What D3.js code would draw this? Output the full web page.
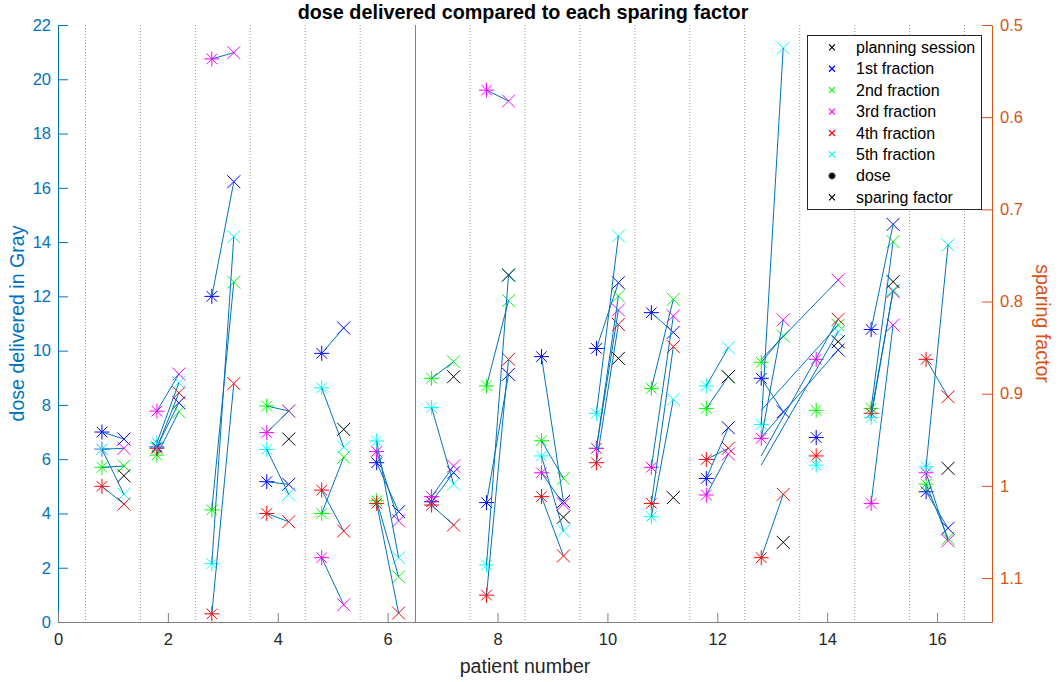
<!DOCTYPE html>
<html><head><meta charset="utf-8">
<script src="https://cdn.jsdelivr.net/npm/d3@7"></script>
<style>
body{margin:0;background:#fff}
text{font-family:"Liberation Sans",Arial,Helvetica,sans-serif}
</style>
</head><body><svg id="c" width="1059" height="682"></svg>
<script>
// ---------- data ----------
const patients = d3.range(1, 17);
const fractionNames = ["1st fraction", "2nd fraction", "3rd fraction", "4th fraction", "5th fraction"];
const fractionColors = ["#0000ff", "#00ff00", "#ff00ff", "#ff0000", "#00ffff"];

// dose delivered (Gy) per fraction, per patient 1..16
const doseF1 = [7.0, 6.45, 12.0, 5.17, 9.9, 5.87, 4.43, 4.4, 9.78, 10.08, 11.4, 5.29, 8.98, 6.8, 10.78, 4.8];
const doseF2 = [5.7, 6.15, 4.13, 7.96, 4.0, 4.47, 8.98, 8.7, 6.68, 6.4, 8.61, 7.87, 9.57, 7.8, 7.87, 5.08];
const doseF3 = [6.37, 7.77, 20.75, 6.98, 2.37, 6.28, 4.62, 19.6, 5.5, 6.4, 5.7, 4.68, 6.77, 9.68, 4.37, 5.5];
const doseF4 = [5.0, 6.4, 0.3, 4.0, 4.86, 4.37, 4.31, 0.99, 4.62, 5.87, 4.37, 5.99, 2.37, 6.12, 7.69, 9.68];
const doseF5 = [6.37, 6.6, 2.15, 6.36, 8.63, 6.67, 7.9, 2.1, 6.12, 7.69, 3.88, 8.7, 7.28, 5.78, 7.54, 5.72];

// sparing factors: planning session and each fraction
const sfPlan = [0.989, null, null, 0.9492, 0.9387, null, 0.8816, 0.7713, 1.034, 0.8617, 1.0128, 0.8816, 1.0613, 0.8436, 0.7785, 0.981];
const sfF1 = [0.9492, 0.9098, 0.670, 0.9984, 0.8287, 1.028, 0.9857, 0.879, 1.017, 0.7796, 0.8334, 0.9369, 0.9195, 0.8526, 0.7163, 1.046];
const sfF2 = [0.9785, 0.9195, 0.779, 0.9188, 0.969, 1.0986, 0.8653, 0.799, 0.9918, 0.794, 0.7976, 0.8816, 0.8374, 0.8255, 0.735, 1.057];
const sfF3 = [0.9593, 0.8787, 0.530, 0.9188, 1.129, 1.038, 0.9785, 0.5825, 1.0197, 0.8092, 0.8157, 0.9654, 0.82, 0.7767, 0.8255, 1.0595];
const sfF4 = [1.0197, 0.899, 0.889, 1.0389, 1.049, 1.138, 1.0425, 0.8627, 1.076, 0.8248, 0.849, 0.9593, 1.0092, 0.8193, 0.789, 0.9033];
const sfF5 = [1.0092, 0.888, 0.7297, 1.0092, 0.958, 1.078, 0.998, 0.7713, 1.049, 0.7289, 0.9061, 0.8501, 0.525, 0.8327, 0.7875, 0.7387];

// patient position from which each patient's connecting lines start (as drawn in the original)
const lineStartPatient = [1, 2, 3, 4, 5, 6, 7, 8, 9, 10, 11, 12, 13, 13, 15, 16];

const xTicks = [0, 2, 4, 6, 8, 10, 12, 14, 16];
const doseTicks = [0, 2, 4, 6, 8, 10, 12, 14, 16, 18, 20, 22];
const sfTicks = [0.5, 0.6, 0.7, 0.8, 0.9, 1.0, 1.1];
const separators = [0.5, 1.5, 2.5, 3.5, 4.5, 5.5, 7.5, 8.5, 9.5, 10.5, 11.5, 12.5, 13.5, 14.5, 15.5, 16.5];
const solidSeparator = [6.5];

const titleText = "dose delivered compared to each sparing factor";
const xLabel = "patient number";
const yLabelLeft = "dose delivered in Gray";
const yLabelRight = "sparing factor";

// ---------- drawing ----------
const doses = [doseF1, doseF2, doseF3, doseF4, doseF5];
const sfs = [sfF1, sfF2, sfF3, sfF4, sfF5];
const L = 58, R = 992, T = 25, B = 622;
const svg = d3.select("#c");
const x = d3.scaleLinear().domain([0, 17]).range([L, R]);
const yDose = d3.scaleLinear().domain([0, 22]).range([B, T]);
const ySf = d3.scaleLinear().domain([0.5, 1.1477]).range([T, B]);
const blue = "#0072bd", orange = "#d95319", dark = "#262626";
const dOff = -0.2, sOff = 0.2;

// separators
svg.append("g").selectAll("line").data(separators).join("line")
  .attr("x1", d => x(d)).attr("x2", d => x(d)).attr("y1", T).attr("y2", B)
  .attr("stroke", "#9a9a9a").attr("stroke-width", 1).attr("stroke-dasharray", "1,2");
svg.append("g").selectAll("line").data(solidSeparator).join("line")
  .attr("x1", d => Math.round(x(d)) + 0.5).attr("x2", d => Math.round(x(d)) + 0.5).attr("y1", T).attr("y2", B)
  .attr("stroke", "#808080").attr("stroke-width", 1);

// marker paths
function asterisk(r) {
  const q = r * Math.SQRT1_2;
  return `M${-r},0L${r},0M0,${-r}L0,${r}M${-q},${-q}L${q},${q}M${-q},${q}L${q},${-q}`;
}
function cross(r) {
  return `M${-r},${-r}L${r},${r}M${-r},${r}L${r},${-r}`;
}

const gMarks = svg.append("g");
// dose markers (asterisks)
for (let f = 0; f < 5; f++) {
  gMarks.append("g").selectAll("path").data(patients).join("path")
    .attr("transform", (p, i) => `translate(${x(p + dOff)},${yDose(doses[f][i])})`)
    .attr("d", asterisk(7.5)).attr("stroke", fractionColors[f]).attr("stroke-width", 1).attr("fill", "none");
}
// sparing factor markers (x)
for (let f = 0; f < 5; f++) {
  gMarks.append("g").selectAll("path").data(patients).join("path")
    .attr("transform", (p, i) => `translate(${x(p + sOff)},${ySf(sfs[f][i])})`)
    .attr("d", cross(6.5)).attr("stroke", fractionColors[f]).attr("stroke-width", 1).attr("fill", "none");
}
gMarks.append("g").selectAll("path").data(patients.filter((p, i) => sfPlan[i] != null)).join("path")
  .attr("transform", p => `translate(${x(p + sOff)},${ySf(sfPlan[p - 1])})`)
  .attr("d", cross(6.5)).attr("stroke", "#000").attr("stroke-width", 1).attr("fill", "none");

// connecting lines dose -> sparing factor
const segs = [];
patients.forEach((p, i) => {
  for (let f = 0; f < 5; f++) segs.push({ x1: lineStartPatient[i] + dOff, d: doses[f][i], x2: p + sOff, s: sfs[f][i] });
});
svg.append("g").selectAll("line").data(segs).join("line")
  .attr("x1", d => x(d.x1)).attr("y1", d => yDose(d.d))
  .attr("x2", d => x(d.x2)).attr("y2", d => ySf(d.s))
  .attr("stroke", blue).attr("stroke-width", 1);

// axes
const axL = svg.append("g").attr("transform", `translate(${L},0)`)
  .call(d3.axisLeft(yDose).tickValues(doseTicks).tickSizeInner(-10).tickSizeOuter(0).tickPadding(7));
const axR = svg.append("g").attr("transform", `translate(${R},0)`)
  .call(d3.axisRight(ySf).tickValues(sfTicks).tickSizeInner(-10).tickSizeOuter(0).tickPadding(8)
    .tickFormat(d3.format("~g")));
const axB = svg.append("g").attr("transform", `translate(0,${B})`)
  .call(d3.axisBottom(x).tickValues(xTicks).tickSizeInner(-9).tickSizeOuter(0).tickPadding(11));
[[axL, blue], [axR, orange], [axB, dark]].forEach(([g, c]) => {
  g.selectAll("path,line").attr("stroke", c);
  g.selectAll("text").attr("fill", c).attr("font-size", 16.5)
    .style("font-family", '"Liberation Sans",Arial,sans-serif');
});
axB.selectAll("path,line").attr("stroke", "#808080");

// labels
svg.append("text").attr("x", 523).attr("y", 19).attr("text-anchor", "middle")
  .attr("font-weight", "bold").attr("font-size", 19.8).attr("fill", "#000").text(titleText);
svg.append("text").attr("x", 525).attr("y", 673).attr("text-anchor", "middle")
  .attr("font-size", 19.6).attr("fill", dark).text(xLabel);
svg.append("text").attr("transform", `translate(24,${(T + B) / 2}) rotate(-90)`).attr("text-anchor", "middle")
  .attr("font-size", 19.6).attr("fill", blue).text(yLabelLeft);
svg.append("text").attr("transform", `translate(1036,${(T + B) / 2}) rotate(90)`).attr("text-anchor", "middle")
  .attr("font-size", 19.6).attr("fill", orange).text(yLabelRight);

// legend
const legendItems = [{ name: "planning session", color: "#000", m: "x" }]
  .concat(fractionNames.map((n, i) => ({ name: n, color: fractionColors[i], m: "x" })))
  .concat([{ name: "dose", color: "#000", m: "*" }, { name: "sparing factor", color: "#000", m: "x" }]);
const lg = svg.append("g");
lg.append("rect").attr("x", 807.5).attr("y", 35.5).attr("width", 174).attr("height", 174)
  .attr("fill", "#fff").attr("stroke", dark).attr("stroke-width", 1);
const rows = lg.selectAll("g").data(legendItems).join("g")
  .attr("transform", (d, i) => `translate(0,${47.3 + i * 21.43})`);
rows.append("path").attr("transform", "translate(832,0)")
  .attr("d", d => d.m === "*" ? asterisk(3.5) : cross(3))
  .attr("stroke", d => d.color).attr("stroke-width", d => d.m === "*" ? 1.6 : 1.2).attr("fill", "none");
rows.append("text").attr("x", 856).attr("y", 5.5).attr("font-size", 16).attr("fill", "#000").text(d => d.name);
</script>
</body></html>
